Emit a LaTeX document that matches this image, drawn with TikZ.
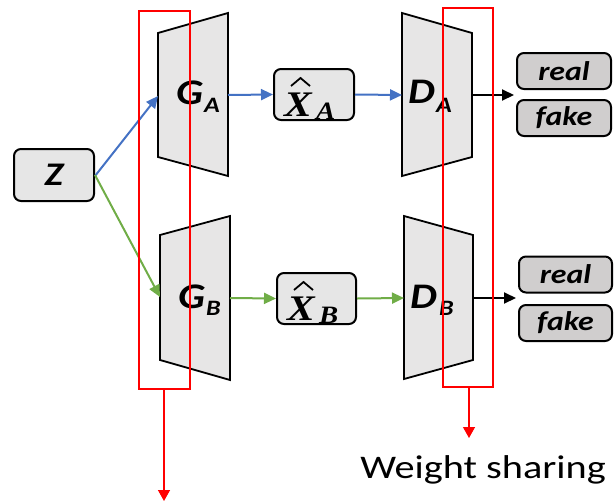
\documentclass[tikz,border=0pt]{standalone}
\usepackage{fontspec}
\setmainfont[FakeStretch=1.18]{Carlito}
\newfontfamily\wsfont[FakeStretch=1.22]{Carlito}
\newfontfamily\genfont[FakeStretch=1.15]{Liberation Serif}
\usetikzlibrary{arrows.meta}

\definecolor{boxgray}{HTML}{E6E6E6}
\definecolor{outgray}{HTML}{D0CECE}
\definecolor{trapgray}{HTML}{E7E6E6}
\definecolor{flowblue}{HTML}{4472C4}
\definecolor{flowgreen}{HTML}{70AD47}

\begin{document}
\begin{tikzpicture}[x=1pt,y=-1pt,
  box/.style={draw=black, line width=2pt, rounded corners=7pt, fill=boxgray,
    inner sep=0pt, anchor=center},
  outbox/.style={box, fill=outgray, minimum width=94pt, minimum height=36pt,
    font=\fontsize{27}{27}\selectfont\bfseries\itshape},
  trap/.style={draw=black, line width=1.8pt, fill=trapgray, line join=miter},
  netname/.style={inner sep=0pt, anchor=base west,
    font=\fontsize{36}{36}\selectfont\bfseries\itshape},
  netsub/.style={inner sep=0pt, anchor=base west,
    font=\fontsize{22}{22}\selectfont\bfseries\itshape},
  genname/.style={inner sep=0pt, anchor=base west,
    font=\genfont\fontsize{36}{36}\selectfont\bfseries\itshape},
  gensub/.style={inner sep=0pt, anchor=base west,
    font=\genfont\fontsize{25}{25}\selectfont\bfseries\itshape},
  hat/.style={draw=black, line width=1.8pt, line join=miter},
  shared/.style={draw=red, line width=2pt},
  arr/.style={-{Triangle[length=12pt,width=11pt]}, line width=2pt},
  redarr/.style={red, line width=1.3pt, -{Triangle[length=11pt,width=12pt]}}]
\useasboundingbox (0,0) rectangle (615,501);

% generators and discriminators (trapezoids)
\draw[trap] (158,33) -- (228,13) -- (228,176) -- (158,157) -- cycle;
\draw[trap] (402,13) -- (472,33) -- (472,157) -- (402,176) -- cycle;
\draw[trap] (160,235) -- (230,216) -- (230,380) -- (160,360) -- cycle;
\draw[trap] (404,216) -- (473,235) -- (473,360) -- (404,379) -- cycle;

% ports on the trapezoid sides
\coordinate (GAin) at (158,96);
\coordinate (GAout) at (228,95);
\coordinate (DAin) at (402,95);
\coordinate (DAout) at (472,95);
\coordinate (GBin) at (160,297);
\coordinate (GBout) at (230,298);
\coordinate (DBin) at (404,298);
\coordinate (DBout) at (473,298);

% network names with subscripts
\node[netname] (GA) at (176,104) {G};
\node[netsub] (GAs) at (204,112) {A};
\node[netname] (DA) at (408,103) {D};
\node[netsub] (DAs) at (436,112) {A};
\node[netname] (GB) at (178,308) {G};
\node[netsub] (GBs) at (206,315) {B};
\node[netname] (DB) at (410,308) {D};
\node[netsub] (DBs) at (439,315) {B};

% input noise and generated samples
\node[box, minimum width=80pt, minimum height=52pt,
  font=\fontsize{33}{33}\selectfont\bfseries\itshape] (Z) at (54,175) {Z};
\node[box, minimum width=80pt, minimum height=51pt] (XA) at (314,94.5) {};
\node[box, minimum width=79pt, minimum height=51pt] (XB) at (316.5,298.5) {};

\node[genname] (XAx) at (284,116) {X};
\node[gensub] (XAs) at (316,119) {A};
\draw[hat] (291,86) -- (300.5,78) -- (310,86);
\node[genname] (XBx) at (287,320) {X};
\node[gensub] (XBs) at (319,323) {B};
\draw[hat] (294,290) -- (303.5,282) -- (313,290);

% discriminator outputs
\node[outbox] (RA) at (564,71) {real};
\node[outbox] (FA) at (564,118) {fake};
\node[outbox, minimum width=93pt] (RB) at (565.5,274.5) {real};
\node[outbox, minimum width=93pt] (FB) at (565.5,323) {fake};

\coordinate (ZA) at ([yshift=-1pt]Z.east);
\coordinate (ZB) at (Z.east);
\coordinate (OA) at (514,95);
\coordinate (OB) at (516,298);

% data flow
\draw[arr, flowblue] (ZA) -- (GAin);
\draw[arr, flowblue] (GAout) -- (XA.west);
\draw[arr, flowblue] (XA.east) -- (DAin);
\draw[arr, flowgreen] (ZB) -- (GBin);
\draw[arr, flowgreen] (GBout) -- (XB.west);
\draw[arr, flowgreen] (XB.east) -- (DBin);
\draw[arr, black] (DAout) -- (OA);
\draw[arr, black] (DBout) -- (OB);

% shared-weight groups
\draw[shared] (138.5,10.5) rectangle (189.5,389);
\draw[shared] (443,8) rectangle (493,387);
\coordinate (SL) at (164,389);
\coordinate (SLend) at (164,501);
\coordinate (SR) at (469,387);
\coordinate (SRend) at (469,438);
\draw[redarr] (SL) -- (SLend);
\draw[redarr] (SR) -- (SRend);

\node[font=\wsfont\fontsize{33}{33}\selectfont, anchor=base, inner sep=0pt] (WS) at (483,478) {Weight sharing};
\end{tikzpicture}
\end{document}
